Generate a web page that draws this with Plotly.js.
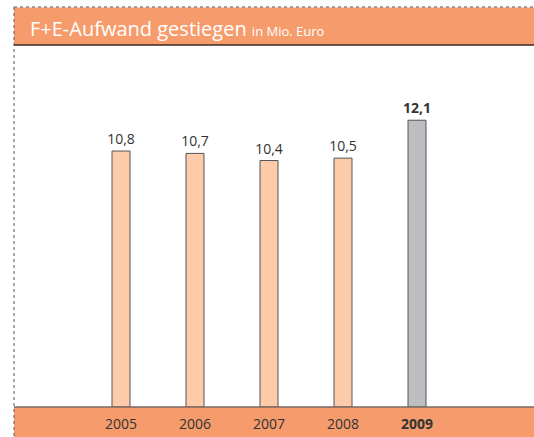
<!DOCTYPE html>
<html>
<head>
<meta charset="utf-8">
<script src="https://cdn.plot.ly/plotly-3.0.1.min.js"></script>
<style>html,body{margin:0;padding:0;background:#fff;}#chart{width:534px;height:437px;}</style>
</head>
<body>
<div id="chart"></div>
<script>
const years = ['2005', '2006', '2007', '2008', '2009'];
const values = [10.8, 10.7, 10.4, 10.5, 12.1];
const highlightIndex = 4;

const fmt = v => v.toFixed(1).replace('.', ',');
const textLabels = values.map((v, i) => i === highlightIndex ? '<b>' + fmt(v) + '</b>' : fmt(v));
const tickLabels = years.map((y, i) => i === highlightIndex ? '<b>' + y + '</b>' : y);
const fills = years.map((y, i) => i === highlightIndex ? '#BDBEC1' : '#FDCBAA');

const W = 534, H = 437, B = 30;
const plotH = H - B;            // 407
const pxPerUnit = 23.7;
const pxPerCat = 74;
const firstCenter = 121;
const py = p => (plotH - p) / plotH;   // pixel from top -> paper y
const px = p => p / W;

const orange = '#F69C6C';
const fontFam = '"Open Sans", "Noto Sans", sans-serif';

const trace = {
  type: 'bar',
  x: years.map((y, i) => i),
  y: values,
  width: 18 / pxPerCat,
  marker: { color: fills, line: { color: '#555555', width: 1 } },
  text: textLabels,
  textposition: 'outside',
  constraintext: 'none',
  cliponaxis: false,
  textfont: { family: fontFam, size: 14, color: '#333333' },
  hoverinfo: 'skip'
};

const layout = {
  width: W, height: H,
  margin: { l: 0, r: 0, t: 0, b: B, pad: 0 },
  paper_bgcolor: '#ffffff',
  plot_bgcolor: '#ffffff',
  showlegend: false,
  bargap: 0,
  xaxis: {
    range: [-firstCenter / pxPerCat, (W - firstCenter) / pxPerCat],
    tickmode: 'array',
    tickvals: years.map((y, i) => i),
    ticktext: tickLabels,
    ticks: '', showgrid: false, zeroline: false, showline: false,
    ticklabelstandoff: 7,
    tickfont: { family: fontFam, size: 14, color: '#333333' },
    fixedrange: true
  },
  yaxis: {
    range: [0, plotH / pxPerUnit],
    visible: false, showgrid: false, zeroline: false, fixedrange: true
  },
  shapes: [
    // header band
    { type: 'rect', xref: 'paper', yref: 'paper', x0: px(14), x1: 1, y0: py(45), y1: py(7.5),
      fillcolor: orange, line: { width: 0 }, layer: 'below' },
    { type: 'line', xref: 'paper', yref: 'paper', x0: px(14), x1: 1, y0: py(45), y1: py(45),
      line: { color: '#3a2a22', width: 1.5 } },
    // bottom band
    { type: 'rect', xref: 'paper', yref: 'paper', x0: px(14), x1: 1, y0: py(H), y1: py(407),
      fillcolor: orange, line: { width: 0 }, layer: 'below' },
    { type: 'line', xref: 'paper', yref: 'paper', x0: px(14), x1: 1, y0: py(407), y1: py(407),
      line: { color: '#7a6a62', width: 1.5 } },
    // dashed frame
    { type: 'line', xref: 'paper', yref: 'paper', x0: px(14), x1: 1, y0: py(7), y1: py(7),
      line: { color: '#555555', width: 1, dash: '3px,3px' } },
    { type: 'line', xref: 'paper', yref: 'paper', x0: px(14), x1: px(14), y0: py(7), y1: py(H),
      line: { color: '#555555', width: 1, dash: '3px,3px' } }
  ],
  annotations: [
    { xref: 'paper', yref: 'paper', x: px(28), y: py(28), xanchor: 'left', yanchor: 'middle',
      showarrow: false,
      text: 'F+E-Aufwand gestiegen <span style="font-size:13px">in Mio. Euro</span>',
      font: { family: fontFam, size: 20, color: '#ffffff', weight: 500 } }
  ]
};

Plotly.newPlot('chart', [trace], layout, { displayModeBar: false, staticPlot: true });
</script>
</body>
</html>
